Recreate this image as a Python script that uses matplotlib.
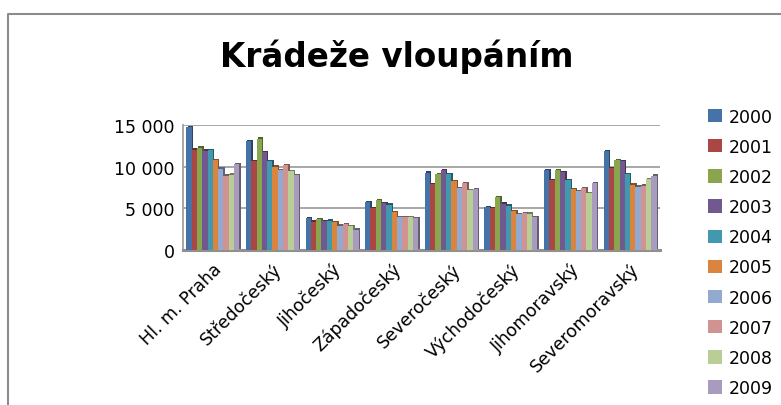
import numpy as np
import matplotlib
matplotlib.use("Agg")
from matplotlib import pyplot as plt
from matplotlib.lines import Line2D
from matplotlib.transforms import ScaledTranslation

regions = ["Hl. m. Praha", "Středočeský", "Jihočeský", "Západočeský",
           "Severočeský", "Východočeský", "Jihomoravský", "Severomoravský"]
years = ["2000", "2001", "2002", "2003", "2004",
         "2005", "2006", "2007", "2008", "2009"]

# one list per year, values per region
v2000 = [14750, 13070, 3850, 5730, 9260, 5170, 9580, 11860]
v2001 = [12020, 10660, 3400, 5050, 7900, 5050, 8380, 9820]
v2002 = [12300, 13380, 3690, 6010, 9100, 6370, 9580, 10780]
v2003 = [11900, 11740, 3490, 5650, 9580, 5570, 9340, 10660]
v2004 = [12000, 10660, 3530, 5450, 9100, 5330, 8380, 9100]
v2005 = [10780, 10010, 3330, 4530, 8260, 4650, 7300, 7850]
v2006 = [9740, 9580, 2920, 3970, 7420, 4290, 7090, 7610]
v2007 = [8930, 10180, 3090, 3970, 8050, 4410, 7420, 7730]
v2008 = [9050, 9460, 2880, 3970, 7180, 4370, 6820, 8500]
v2009 = [10300, 8980, 2440, 3810, 7300, 3930, 8050, 8930]
series = [v2000, v2001, v2002, v2003, v2004, v2005, v2006, v2007, v2008, v2009]

colors = ["#4572A7", "#AA4643", "#89A54E", "#71588F", "#4198AF",
          "#DB843D", "#93A9CF", "#D19392", "#B9CD96", "#A99BBD"]

plt.rcParams['font.family'] = ['DejaVu Sans']

W, H = 781, 406
fig = plt.figure(figsize=(W / 100, H / 100), dpi=100)
ax = fig.add_axes([183 / W, 1 - 251 / H, 477 / W, 125 / H])

x = np.arange(len(regions))
bw = 0.089
dx, dy = 0.022, 170


def darker(c, f=0.6):
    rgb = np.array(matplotlib.colors.to_rgb(c))
    return tuple(rgb * f)


for i, (vals, c) in enumerate(zip(series, colors)):
    pos = x - 0.445 + bw * (i + 0.5)
    vals = np.array(vals)
    # fake 3d side
    ax.bar(pos + dx, vals + dy, width=bw, color=darker(c), zorder=2, linewidth=0)
    ax.bar(pos, vals, width=bw, color=c, zorder=3, linewidth=0, label=years[i])

ax.set_xlim(-0.5, len(regions) - 0.5)
ax.set_ylim(0, 15000)
ax.set_yticks([0, 5000, 10000, 15000])
ax.set_yticklabels(["0", "5 000", "10 000", "15 000"], fontsize=12.5)
ax.set_xticks(x)
ax.set_xticklabels(regions, fontsize=12.5, rotation=45, ha="right",
                   va="top", rotation_mode="anchor")
shift = ScaledTranslation(-9 / 72, -4 / 72, fig.dpi_scale_trans)
for lab in ax.get_xticklabels():
    lab.set_transform(lab.get_transform() + shift)
ax.tick_params(axis="both", length=0)
ax.tick_params(axis="x", pad=7)
ax.tick_params(axis="y", pad=6)
ax.yaxis.grid(True, color="#A0A0A0", linewidth=1.3, zorder=0)
ax.set_axisbelow(True)
for s in ["top", "right"]:
    ax.spines[s].set_visible(False)
ax.spines["left"].set_color("#A0A0A0")
ax.spines["left"].set_linewidth(1.3)
ax.spines["bottom"].set_color("#909090")
ax.spines["bottom"].set_linewidth(2.2)

fig.text(397 / W, 1 - 57 / H, "Krádeže vloupáním", ha="center", va="center",
         fontsize=23.5, fontweight="bold")

fig.legend(loc="upper left", bbox_to_anchor=(699 / W, 1 - 100 / H),
           frameon=False, fontsize=12.5, handlelength=0.8, handleheight=0.8,
           handletextpad=0.4, labelspacing=0.7, borderpad=0)

# outer chart border (left and top only)
fig.add_artist(Line2D([8 / W, 8 / W, 1.0], [0.0, 1 - 14.5 / H, 1 - 14.5 / H],
                      transform=fig.transFigure, color="#8C8C8C", linewidth=1.5))

fig.savefig("out.png", dpi=100)
